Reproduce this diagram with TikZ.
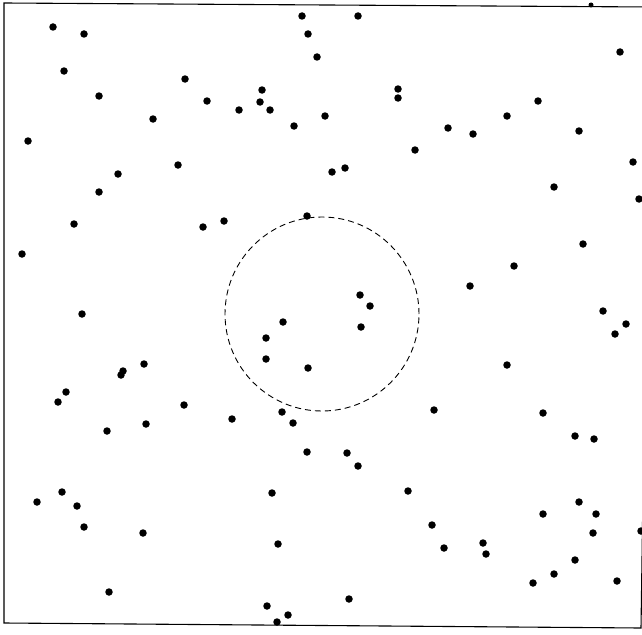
\documentclass[tikz,border=0pt]{standalone}
\begin{document}
\begin{tikzpicture}[x=1pt,y=-1pt,
  dot/.style={circle,fill=black,inner sep=0pt,minimum size=7.5pt},
  frame/.style={draw=black,line width=1.1pt},
  ring/.style={draw=black,line width=0.9pt,dash pattern=on 6pt off 4pt}]
\useasboundingbox (0,0) rectangle (642,634);
\fill[white] (0,0) rectangle (642,634);
\draw[frame] (4,3) -- (650,7) -- (641,628) -- (4,623) -- cycle;
\node[ring,circle,minimum size=194pt,inner sep=0pt] (c) at (322,314) {};
\foreach \x/\y [count=\i] in {
53/27,84/34,64/71,99/96,185/79,207/101,153/119,239/110,262/90,260/102,270/110,294/126,
302/16,308/34,317/57,28/141,178/165,118/174,99/192,74/224,203/227,224/221,307/216,22/254,82/314,
358/16,620/52,398/89,398/98,325/116,448/128,473/134,415/150,507/116,538/101,579/131,633/162,
332/172,345/168,554/187,639/199,583/244,514/266,470/286,360/295,370/306,603/311,
283/322,266/338,266/359,308/368,144/364,123/371,121/375,66/392,58/402,184/405,107/431,146/424,
232/419,282/412,293/423,307/452,62/492,37/502,77/506,84/527,143/533,272/493,278/544,109/592,
267/606,288/615,277/622,
361/327,626/324,615/334,507/365,434/410,543/413,575/436,594/439,347/453,358/466,408/491,
579/502,596/514,543/514,432/525,593/533,641/531,444/548,483/543,486/554,575/560,554/574,
533/583,617/581,349/599}
  \node[dot] (d\i) at (\x,\y) {};
\node[dot,minimum size=5pt] (top) at (591,5) {};
\end{tikzpicture}
\end{document}
